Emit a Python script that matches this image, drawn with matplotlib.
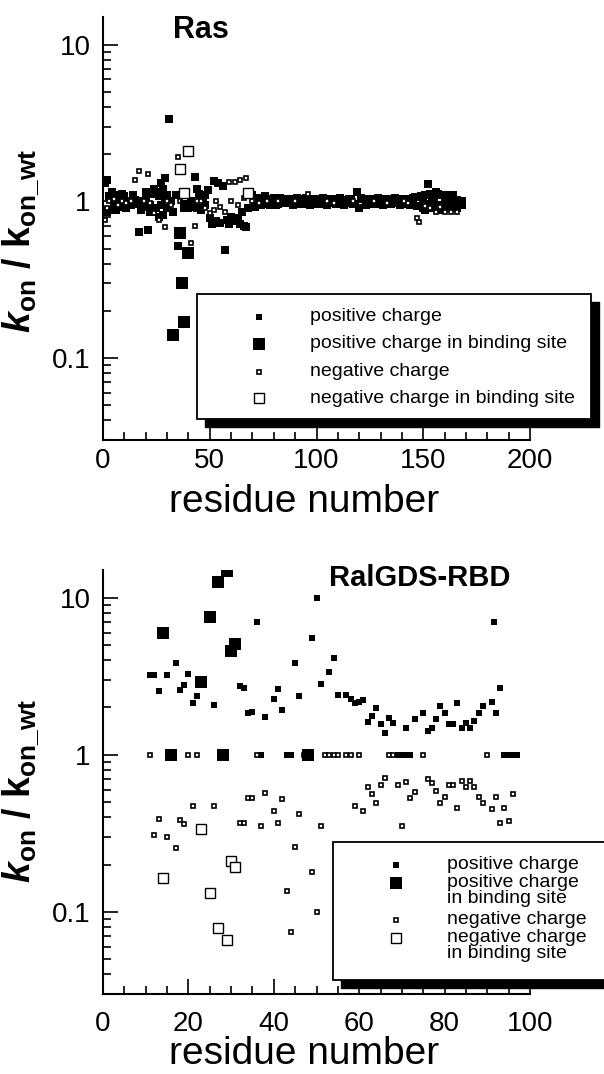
import matplotlib
matplotlib.use("Agg")
import matplotlib.pyplot as plt
from matplotlib.lines import Line2D
from matplotlib.patches import Rectangle
from matplotlib.ticker import LogLocator, FixedLocator, MultipleLocator, NullFormatter, FuncFormatter

plt.rcParams['font.family'] = ['Liberation Sans', 'DejaVu Sans']
plt.rcParams['mathtext.fontset'] = 'custom'
plt.rcParams['mathtext.rm'] = 'Liberation Sans'
plt.rcParams['mathtext.it'] = 'Liberation Sans:italic'
plt.rcParams['mathtext.bf'] = 'Liberation Sans:bold'
plt.rcParams['mathtext.bfit'] = 'Liberation Sans:bold:italic'

# ---------------- Ras data ----------------
ras_pos_res = [1, 2, 3, 4, 5, 6, 7, 8, 9, 10, 11, 12, 13, 14, 16, 17, 18, 19, 20, 21, 22, 23, 24, 25, 26,
               27, 28, 29, 30, 31, 32, 33, 34, 35, 41, 42, 43, 44, 45, 46, 47, 48, 49, 50, 51, 52, 53, 54,
               55, 56, 57, 58, 59, 60, 61, 62, 63, 64, 65, 66, 67, 68, 69, 70, 71, 73, 74, 76, 78, 80, 82,
               84, 86, 88, 90, 92, 94, 96, 98, 100, 102, 104, 106, 108, 110, 112, 114, 116, 118, 119, 120,
               122, 124, 126, 128, 130, 132, 134, 136, 138, 140, 142, 144, 146, 148, 149, 150, 151, 152,
               153, 154, 155, 156, 157, 158, 159, 160, 161, 162, 163, 164, 165, 166, 167, 168,
               72, 75, 77, 79, 81, 83, 85, 87, 89, 91, 93, 95, 97, 99, 101, 103, 105, 107, 109, 111,
               113, 115, 117, 121, 123, 125, 127, 129, 131, 133, 135, 137, 139, 141, 143, 145, 147,
               3, 5, 8, 10, 12, 15, 23, 25, 27, 29, 44, 46, 48, 150, 152, 155, 158, 160, 163,
               2, 4, 6, 9, 11, 14, 18, 20, 22, 24, 26, 28, 30,
               151, 153, 154, 157, 159, 161, 162, 164, 166, 168]
ras_pos_val = [1.30, 1.37, 0.88, 1.05, 0.95, 1.10, 0.92, 1.02, 0.97, 1.08, 0.93, 1.00, 0.95, 1.04, 0.96,
               0.64, 1.00, 0.92, 1.05, 0.66, 0.95, 1.12, 1.20, 0.90, 1.08, 1.30, 0.82, 1.41, 0.90, 3.36,
               1.00, 0.85, 1.10, 0.515, 1.00, 0.92, 1.44, 1.20, 1.12, 0.88, 1.05, 0.95, 1.18, 0.78, 0.72,
               1.34, 0.75, 1.30, 0.73, 1.25, 0.49, 0.76, 0.72, 0.80, 0.75, 0.78, 0.76, 0.72, 0.85, 0.70,
               0.69, 0.90, 1.15, 1.10, 0.92, 1.05, 0.95, 1.08, 0.95, 1.05, 0.96, 1.03, 0.97, 1.02, 0.96,
               1.04, 0.97, 1.02, 0.96, 1.03, 0.98, 1.02, 0.97, 1.03, 0.98, 1.02, 0.97, 1.03, 0.96, 1.14,
               0.90, 1.03, 0.97, 1.02, 0.96, 1.03, 0.98, 1.02, 0.97, 1.03, 0.97, 1.03, 0.95, 1.06, 0.93,
               1.08, 0.90, 1.10, 1.29, 0.92, 1.08, 0.95, 1.15, 0.90, 1.10, 0.93, 1.05, 0.92, 1.08, 0.95,
               1.05, 0.93, 1.02, 0.97, 1.00,
               0.95, 1.05, 0.96, 1.04, 0.95, 1.05, 0.97, 1.04, 0.95, 1.05, 0.96, 1.05, 0.95, 1.04, 0.96,
               1.05, 0.95, 1.04, 0.96, 1.05, 0.95, 1.04, 0.96, 1.05, 0.95, 1.04, 0.96, 1.05, 0.95, 1.04,
               0.96, 1.05, 0.95, 1.04, 0.96, 1.05, 0.94,
               1.08, 0.90, 0.96, 1.04, 0.98, 1.02, 0.85, 1.15, 0.95, 1.05, 0.90, 1.05, 1.10, 1.04, 0.96,
               1.05, 0.95, 1.03, 0.97,
               0.85, 1.15, 0.88, 1.12, 0.90, 1.10, 0.88, 1.15, 0.85, 1.18, 0.80, 1.20, 1.10,
               0.88, 1.12, 0.90, 1.12, 0.88, 1.10, 0.90, 1.10, 0.90, 0.95]
ras_posb_res = [33, 36, 37, 38, 39, 40]
ras_posb_val = [0.14, 0.63, 0.30, 0.17, 0.93, 0.47]
ras_neg_res = [1, 2, 3, 5, 7, 9, 11, 13, 15, 17, 19, 21, 22, 24, 26, 29, 30, 32, 35, 36, 41, 43, 44, 46,
               48, 50, 52, 53, 55, 57, 59, 60, 62, 63, 64, 66, 67, 70, 73, 77, 82, 90, 96, 105, 108, 117,
               127, 133, 141, 143, 147, 148, 151, 153, 156, 158, 160, 163, 166]
ras_neg_val = [0.76, 0.90, 1.00, 1.03, 0.95, 1.00, 0.97, 1.00, 1.37, 1.55, 1.00, 1.49, 0.98, 0.84, 0.76,
               0.69, 1.00, 0.95, 1.93, 1.00, 0.54, 0.70, 1.00, 1.00, 0.90, 0.84, 0.88, 1.00, 0.92, 0.85,
               1.32, 1.00, 1.32, 0.95, 1.37, 1.05, 1.41, 1.00, 0.98, 1.00, 1.00, 1.00, 1.12, 1.00, 0.97,
               1.00, 1.00, 0.98, 1.00, 0.97, 0.78, 0.74, 0.94, 0.90, 0.86, 0.92, 0.86, 0.86, 0.86]
ras_negb_res = [36, 38, 40, 68]
ras_negb_val = [1.60, 1.13, 2.10, 1.13]

# ---------------- RalGDS-RBD data ----------------
ral_pos_res = [11, 12, 13, 15, 17, 18, 19, 20, 21, 22, 26, 32, 33, 34, 35, 36, 37, 38, 40, 41, 42, 43, 44,
               45, 46, 49, 50, 51, 53, 54, 55, 57, 58, 59, 60, 61, 62, 63, 64, 65, 66, 67, 68, 69, 70, 71,
               71, 72, 73, 75, 76, 77, 78, 79, 80, 81, 82, 83, 84, 85, 86, 87, 88, 89, 91, 91.5, 92, 93,
               94, 95, 96, 97]
ral_pos_val = [3.2, 3.2, 2.54, 3.24, 3.84, 2.60, 2.80, 3.28, 2.12, 2.35, 2.08, 2.73, 2.66, 1.84, 1.87,
               6.99, 1.0, 1.74, 2.25, 2.64, 1.92, 1.0, 1.0, 3.81, 2.35, 5.5, 10.0, 2.82, 3.37, 4.16, 2.39,
               2.41, 2.25, 2.12, 2.17, 2.24, 1.61, 1.76, 1.98, 1.56, 1.38, 1.71, 1.59, 1.0, 1.0, 1.47, 1.0,
               1.0, 1.68, 1.85, 1.41, 1.49, 1.68, 2.03, 1.85, 1.56, 1.56, 2.15, 1.47, 1.59, 1.47, 1.63,
               1.85, 2.03, 2.17, 7.0, 1.85, 2.66, 1.0, 1.0, 1.0, 1.0]
ral_posb_res = [14, 16, 23, 25, 27, 28, 29, 30, 31, 48]
ral_posb_val = [6.0, 1.0, 2.89, 7.5, 12.5, 1.0, 14.8, 4.6, 5.1, 1.0]
ral_neg_res = [11, 12, 13, 15, 17, 18, 19, 20, 21, 22, 26, 32, 33, 34, 35, 36, 37, 38, 40, 41, 42, 43, 44,
               45, 46, 47, 49, 50, 51, 52, 53, 54, 55, 57, 58, 59, 60, 61, 62, 63, 64, 65, 66, 67, 68, 69,
               70, 71, 72, 73, 75, 76, 77, 78, 79, 80, 81, 82, 83, 84, 85, 86, 87, 88, 89, 90, 91, 92, 93,
               94, 95, 96]
ral_neg_val = [1.0, 0.31, 0.39, 0.30, 0.255, 0.385, 0.36, 1.0, 0.47, 1.0, 0.475, 0.37, 0.37, 0.53, 0.53,
               1.0, 0.35, 0.57, 0.44, 0.37, 0.52, 0.136, 0.074, 0.26, 0.42, 1.0, 0.18, 0.10, 0.35, 1.0,
               1.0, 1.0, 1.0, 1.0, 1.0, 0.47, 1.0, 0.44, 0.62, 0.56, 0.49, 0.64, 0.71, 1.0, 1.0, 0.64,
               0.35, 0.67, 0.53, 0.58, 1.0, 0.70, 0.66, 0.59, 0.49, 0.54, 0.64, 0.64, 0.46, 0.68, 0.62,
               0.68, 0.62, 0.54, 0.49, 1.0, 0.45, 0.54, 0.37, 0.46, 0.38, 0.56]
ral_negb_res = [14, 23, 25, 27, 29, 30, 31]
ral_negb_val = [0.164, 0.337, 0.131, 0.079, 0.066, 0.211, 0.194]

legend_labels_top = ["positive charge", "positive charge in binding site",
                     "negative charge", "negative charge in binding site"]
legend_labels_bottom = ["positive charge", "positive charge\nin binding site",
                        "negative charge", "negative charge\nin binding site"]

W, H = 604, 1074
fig = plt.figure(figsize=(W / 100, H / 100), dpi=100)


def fx(px):
    return px / W


def fy(py):
    return 1 - py / H


def make_styles(s_small, s_big, s_open, s_openb):
    return [
        dict(marker='s', ms=s_small, mfc='black', mec='black', mew=0, ls='none'),
        dict(marker='s', ms=s_big, mfc='black', mec='black', mew=0, ls='none'),
        dict(marker='s', ms=s_open, mfc='white', mec='black', mew=1.2, ls='none'),
        dict(marker='s', ms=s_openb, mfc='white', mec='black', mew=1.0, ls='none'),
    ]


styles_top = make_styles(5.1, 8.2, 3.5, 6.8)
styles = make_styles(4.3, 8.4, 3.1, 6.8)


def style_axes(ax, xmax, major, minor, xpad):
    ax.set_yscale('log')
    ax.set_ylim(0.03, 15)
    ax.set_xlim(0, xmax)
    for s in ['top', 'right']:
        ax.spines[s].set_visible(False)
    for s in ['left', 'bottom']:
        ax.spines[s].set_linewidth(1.5)
    ax.xaxis.set_major_locator(MultipleLocator(major))
    ax.xaxis.set_minor_locator(MultipleLocator(minor))
    ax.yaxis.set_major_locator(FixedLocator([0.1, 1, 10]))
    ax.yaxis.set_minor_locator(LogLocator(base=10, subs=[2, 3, 4, 5, 6, 7, 8, 9], numticks=20))
    ax.yaxis.set_minor_formatter(NullFormatter())
    ax.yaxis.set_major_formatter(FuncFormatter(lambda v, p: {0.1: '0.1', 1: '1', 10: '10'}.get(round(v, 3), '')))
    ax.tick_params(which='major', direction='in', length=11, width=1.2, labelsize=20)
    ax.tick_params(which='minor', direction='in', length=6, width=1.2)
    ax.tick_params(axis='y', which='major', pad=9)
    ax.tick_params(axis='x', which='major', pad=xpad)
    ax.set_xlabel('residue number', fontsize=28)
    ax.set_ylabel(r'$\mathbfit{k}_{\mathbf{on}}\ \mathbf{/\ k}_{\mathbf{on\_wt}}$', fontsize=27)
    ax.patch.set_alpha(0)


# ---------------- top axes ----------------
ax1 = fig.add_axes([fx(103), fy(440), fx(530) - fx(103), fy(17) - fy(440)])
style_axes(ax1, 200, 50, 10, 5.5)
ax1.plot(ras_pos_res, ras_pos_val, **styles_top[0])
ax1.plot(ras_neg_res, ras_neg_val, **styles_top[2])
ax1.plot(ras_posb_res, ras_posb_val, **styles_top[1])
ax1.plot(ras_negb_res, ras_negb_val, **styles_top[3])
ax1.yaxis.set_label_coords(-0.145, 0.47)
ax1.xaxis.set_label_coords(0.47, -0.105)
fig.text(fx(201), fy(30), 'Ras', fontsize=22, fontweight='bold', ha='center', va='center')

# ---------------- bottom axes ----------------
ax2 = fig.add_axes([fx(103), fy(994), fx(530) - fx(103), fy(570) - fy(994)])
style_axes(ax2, 100, 20, 5, 12)
ax2.plot(ral_pos_res, ral_pos_val, **styles[0])
ax2.plot(ral_neg_res, ral_neg_val, **styles[2])
ax2.plot(ral_posb_res, ral_posb_val, **styles[1])
ax2.plot(ral_negb_res, ral_negb_val, **styles[3])
ax2.yaxis.set_label_coords(-0.145, 0.48)
ax2.xaxis.set_label_coords(0.47, -0.1)
fig.text(fx(420), fy(578), 'RalGDS-RBD', fontsize=21, fontweight='bold', ha='center', va='center')


def box(x0, y0, x1, y1, sh=8):
    fig.add_artist(Rectangle((fx(x0 + sh), fy(y1 + sh)), fx(x1) - fx(x0), fy(y0) - fy(y1),
                             transform=fig.transFigure, facecolor='black', edgecolor='black', zorder=5))
    fig.add_artist(Rectangle((fx(x0), fy(y1)), fx(x1) - fx(x0), fy(y0) - fy(y1),
                             transform=fig.transFigure, facecolor='white', edgecolor='black',
                             linewidth=1.3, zorder=6))


# top legend
box(197, 294, 591, 419)
rows_top = [316.7, 344, 371.7, 398.3]
for st, lab, ry in zip(styles, legend_labels_top, rows_top):
    fig.add_artist(Line2D([fx(259)], [fy(ry)], transform=fig.transFigure, zorder=7, **st))
    fig.text(fx(310), fy(ry), lab, fontsize=14, ha='left', va='center', zorder=8)

# bottom legend
box(333, 842, 620, 980)
rows_bot = [865, 883.3, 920, 938.3]
for st, lab, ry in zip(styles, legend_labels_bottom, rows_bot):
    fig.add_artist(Line2D([fx(396)], [fy(ry)], transform=fig.transFigure, zorder=7, **st))
    fig.text(fx(447), fy(ry - 9), lab, fontsize=14, ha='left', va='top', linespacing=0.93, zorder=8)

fig.savefig('out.png', dpi=100)
